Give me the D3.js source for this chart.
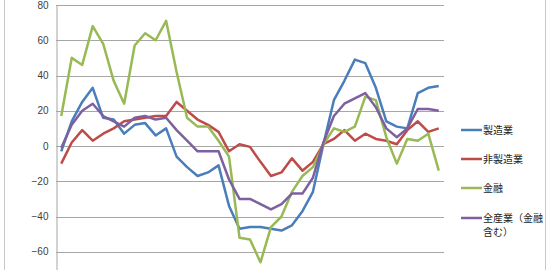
<!DOCTYPE html>
<html>
<head>
<meta charset="utf-8">
<script src="https://cdn.jsdelivr.net/npm/d3@7"></script>
<style>
  body { margin: 0; background: #fff; overflow: hidden; }
  svg { display: block; }
  text { font-family: "Noto Sans CJK JP", "Noto Sans", sans-serif; }
</style>
</head>
<body>
<script>
var width = 550,
    height = 270;

// 系列名
var seriesNames = ["製造業", "非製造業", "金融", "全産業（金融含む）"];
var seriesColors = ["#4a7ebb", "#be4b48", "#98b954", "#7d60a0"];

// 値
var seizo = [-3, 14, 25, 33, 16, 15, 7, 12, 13, 6, 10, -6, -12, -17, -15, -11, -34, -47, -46, -46, -47, -48, -45, -37, -26, 1, 26, 37, 49, 47, 33, 14, 11, 10, 30, 33, 34];
var hiseizo = [-10, 2, 9, 3, 7, 10, 14, 15, 16, 17, 17, 25, 20, 15, 12, 8, -3, 1, -0.5, -9, -17, -15, -7, -14, -9, 1, 4, 9, 3, 7, 4, 3, 1, 9, 14, 8, 10];
var kinyu = [17, 50, 46, 68, 58, 37, 24, 57, 64, 60, 71, 42, 16, 11, 11, 3, -6, -52, -53, -66, -46, -40, -26, -17, -12, 1, 10, 8, 11, 28, 26, 5, -10, 4, 3, 7, -14];
var zensangyo = [-1, 12, 20, 24, 17, 14, 11, 16, 17, 15, 16, 9, 3, -3, -3, -3, -19, -30, -30, -33, -36, -33, -27, -27, -18, 2, 17, 24, 27, 30, 22, 10, 5, 10, 21, 21, 20];

var yTicks = [-60, -40, -20, 0, 20, 40, 60, 80];

var allSeries = [seizo, hiseizo, kinyu, zensangyo];

var svg = d3.select("body")
    .append("svg")
    .attr("width", width)
    .attr("height", height);

// 外枠
svg.append("line").attr("x1", 4.5).attr("x2", 4.5).attr("y1", 0).attr("y2", height)
    .attr("stroke", "#c8c8c8");
svg.append("line").attr("x1", 545.5).attr("x2", 545.5).attr("y1", 0).attr("y2", height)
    .attr("stroke", "#c8c8c8");

var x = d3.scalePoint()
    .domain(d3.range(seizo.length))
    .range([56, 444])
    .padding(0.5);

var y = d3.scaleLinear()
    .domain([-80, 80])
    .range([287, 5]);

// グリッド線
svg.append("g")
    .selectAll("line")
    .data(yTicks)
    .join("line")
    .attr("x1", 56)
    .attr("x2", 444)
    .attr("y1", d => Math.round(y(d)) + 0.5)
    .attr("y2", d => Math.round(y(d)) + 0.5)
    .attr("stroke", "#a6a6a6")
    .attr("stroke-width", 1);

// 縦軸
var yAxis = d3.axisLeft(y).tickValues(yTicks).tickSize(0).tickPadding(8);
var gy = svg.append("g")
    .attr("transform", "translate(56.5,0)")
    .call(yAxis);
gy.select(".domain").attr("stroke", "#a6a6a6");
gy.selectAll("text")
    .attr("font-size", 10)
    .attr("fill", "#404040")
    .style("font-family", "Arial, 'Liberation Sans', sans-serif");

// 折れ線
var line = d3.line()
    .x((d, i) => x(i))
    .y(d => y(d));

svg.append("g")
    .selectAll("path")
    .data(allSeries)
    .join("path")
    .attr("d", line)
    .attr("fill", "none")
    .attr("stroke", (d, i) => seriesColors[i])
    .attr("stroke-width", 2.5)
    .attr("stroke-linejoin", "round");

// 凡例
var legendY = [130, 159, 188, 218];
var legend = svg.append("g")
    .selectAll("g")
    .data(seriesNames)
    .join("g")
    .attr("transform", (d, i) => "translate(0," + legendY[i] + ")");

legend.append("line")
    .attr("x1", 461)
    .attr("x2", 482)
    .attr("stroke", (d, i) => seriesColors[i])
    .attr("stroke-width", 2.5);

legend.append("text")
    .attr("x", 483)
    .attr("font-size", 10)
    .attr("fill", "#222")
    .each(function (d) {
        var t = d3.select(this);
        var lines = d === "全産業（金融含む）" ? ["全産業（金融", "含む）"] : [d];
        lines.forEach(function (s, k) {
            t.append("tspan")
                .attr("x", 483)
                .attr("dy", k === 0 ? "0.35em" : "1.4em")
                .text(s);
        });
    });
</script>
</body>
</html>
